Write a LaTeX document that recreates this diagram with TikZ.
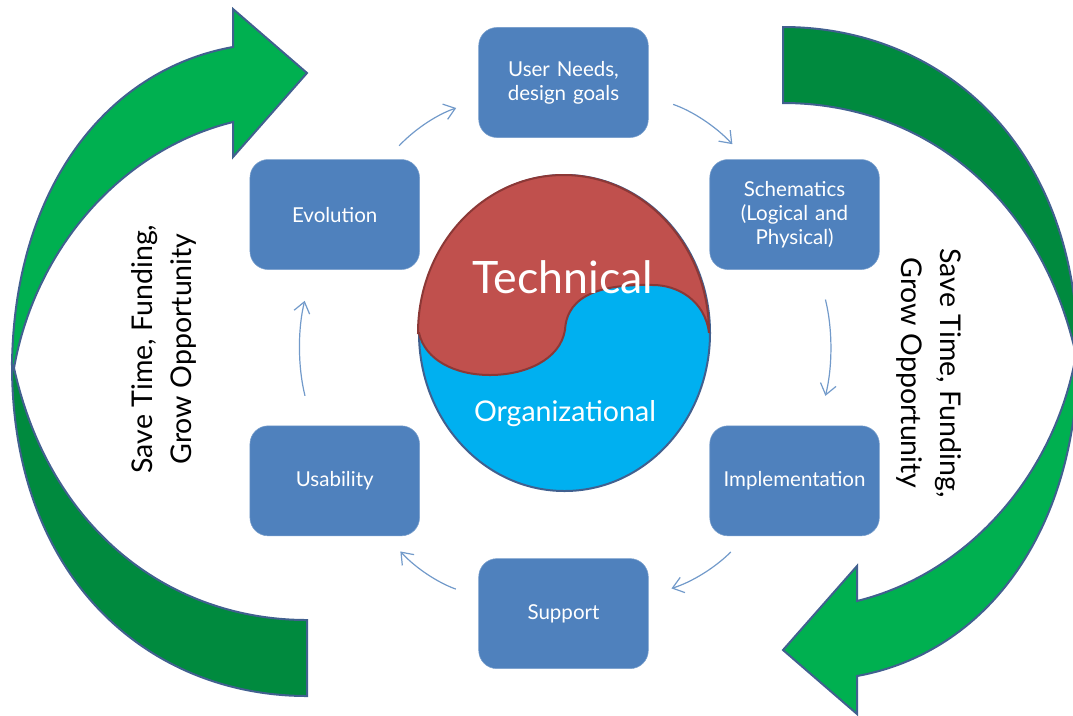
\documentclass[tikz,border=0pt]{standalone}
\usepackage{fontspec}
\setmainfont{Lato}
\usepackage{tikz}
\usetikzlibrary{shapes.geometric, arrows.meta}
\definecolor{stagefill}{HTML}{4F81BD}
\definecolor{sweeplight}{HTML}{00B050}
\definecolor{sweepdark}{HTML}{008A3E}
\definecolor{sweepedge}{HTML}{41608F}
\definecolor{techred}{HTML}{C0504D}
\definecolor{techedge}{HTML}{8C3836}
\definecolor{orgblue}{HTML}{00B0F0}
\tikzstyle{stage} = [rectangle, rounded corners=.48cm, minimum width=4.47cm, minimum height=2.9cm, text width=4cm, text centered, draw=stagefill!75!white, line width=.4pt, fill=stagefill, text=white, font=\fontsize{15.4}{18}\selectfont]
\tikzstyle{arrow} = [draw=stagefill!80!white, line width=.9pt, -{Straight Barb[length=8pt,width=12pt]}, bend left=14]
\tikzstyle{sweep} = [draw=sweepedge, line width=1.5pt, line join=miter]
\tikzstyle{slogan} = [text centered, text=black, align=center, font=\fontsize{21.4}{29}\selectfont]

\begin{document}
\begin{tikzpicture}[node distance=2cm, x=.75pt, y=-.75pt]
        \useasboundingbox (0,0) rectangle (1073,715);

        \begin{scope}
        \clip (0,0) rectangle (1073,715);
        % left sweep
        \draw [sweep, fill=sweepdark] (307,696) .. controls (150,696) and (12,580) .. (12,365) -- (14,368) .. controls (50,530) and (170,620) .. (307,620) -- cycle;
        \draw [sweep, fill=sweeplight] (12,365) .. controls (14,190) and (105,70) .. (233,47) -- (233,9) -- (307,73) -- (233,157) -- (233,122) .. controls (120,150) and (35,250) .. (14,368) -- cycle;
        % right sweep
        \begin{scope}[rotate around={180:(545,361.5)}]
        \draw [sweep, fill=sweepdark] (307,696) .. controls (150,696) and (12,580) .. (12,365) -- (14,368) .. controls (50,530) and (170,620) .. (307,620) -- cycle;
        \draw [sweep, fill=sweeplight] (12,365) .. controls (14,190) and (105,70) .. (233,47) -- (233,9) -- (307,73) -- (233,157) -- (233,122) .. controls (120,150) and (35,250) .. (14,368) -- cycle;
        \end{scope}
        \end{scope}

        \node (UserNeeds) [stage] at (563.5,82.5) {User Needs,\\design goals};
        \node (Schematics) [stage, below of=UserNeeds, xshift=6.09cm, yshift=-1.48cm] {Schematics\\(Logical and\\Physical)};
        \node (Implementation) [stage, below of=Schematics, yshift=-5.02cm] {Implementation};
        \node (Support) [stage, below of=Implementation, xshift=-6.09cm, yshift=-1.5cm] {Support};
        \node (Evolution) [stage, left of=Schematics, xshift=-10.12cm] {Evolution};
        \node (Usability) [stage, below of=Evolution, yshift=-5.02cm] {Usability};

        \draw [arrow, shorten <=19.5pt, shorten >=15.5pt] (UserNeeds.-9) to (Schematics.131);
        \draw [arrow, shorten <=23pt, shorten >=23pt] (Schematics.-67) to (Implementation.67);
        \draw [arrow, shorten <=16.7pt, shorten >=18pt] (Implementation.-131) to (Support.12);
        \draw [arrow, shorten <=18pt, shorten >=15.6pt] (Support.169) to (Usability.-47);
        \draw [arrow, shorten <=23pt, shorten >=24pt] (Usability.112) to (Evolution.-112);
        \draw [arrow, shorten <=14pt, shorten >=17.6pt] (Evolution.47) to (UserNeeds.192);

        % centre disc
        \node (Core) [ellipse, minimum width=291*.75pt, minimum height=316*.75pt, inner sep=0pt, draw=sweepedge, line width=1.5pt, fill=orgblue] at (564.5,333) {};
        \draw [draw=techedge, line width=1.5pt, fill=techred] (Core.west) arc[start angle=180, end angle=360, x radius=145.5, y radius=158] .. controls (705,300) and (677,285) .. (653,285) .. controls (605,284) and (567,293) .. (565,330) .. controls (560,360) and (525,375) .. (490,375) .. controls (455,375) and (425,360) .. (419,333) -- cycle;
        \node (Technical) [text=white, font=\fontsize{33.5}{38}\selectfont] at (563,277) {Technical};
        \node (Organizational) [text=white, font=\fontsize{21.4}{24}\selectfont] at (565,414) {Organizational};

        \node (SloganLeft) [slogan, rotate=90] at (164,349) {Save Time, Funding,\\Grow Opportunity};
        \node (SloganRight) [slogan, rotate=-90] at (929,373) {Save Time, Funding,\\Grow Opportunity};

      \end{tikzpicture}
\end{document}
